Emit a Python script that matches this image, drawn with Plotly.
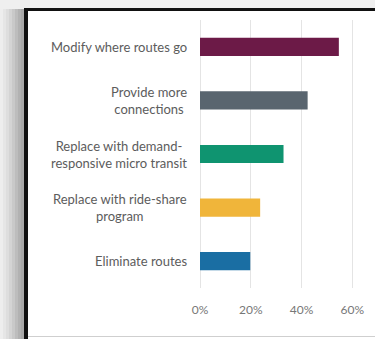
import plotly.graph_objects as go

categories = [
    "Modify where routes go",
    "Provide more<br>connections",
    "Replace with demand-<br>responsive micro transit",
    "Replace with ride-share<br>program",
    "Eliminate routes",
]
shares = [0.547, 0.424, 0.329, 0.237, 0.198]
bar_colors = ["#6c1a47", "#59656f", "#0f9470", "#f0b53a", "#1a6ea3"]
tick_vals = [0, 0.2, 0.4, 0.6]
tick_text = ["0%", "20%", "40%", "60%"]

W, H = 375, 339
L, R, T, B = 200, 10, 20, 51


def px_x(p):
    return (p - L) / (W - L - R)


def px_y(p):
    return 1 - (p - T) / (H - T - B)


fig = go.Figure()
fig.add_trace(
    go.Bar(
        x=shares,
        y=categories,
        orientation="h",
        marker=dict(color=bar_colors, line=dict(width=0)),
        width=0.34,
        hoverinfo="x+y",
    )
)

# category labels, centred like the original
for cat in categories:
    fig.add_annotation(
        x=px_x(189), xref="paper", y=cat, yref="y",
        text=cat, showarrow=False, xanchor="right", align="center",
        font=dict(family="Lato", size=13, color="#5c5c5c"),
    )

shapes = []
# shadow strip left of the frame
greys = ["#eeeeee", "#e6e6e6", "#dedede", "#d4d4d4", "#c9c9c9", "#bdbdbd", "#b2b2b2", "#a9a9a9"]
for i, g in enumerate(greys):
    shapes.append(dict(
        type="rect", xref="paper", yref="paper",
        x0=px_x(i * 3), x1=px_x(i * 3 + 3), y0=px_y(H), y1=px_y(9),
        fillcolor=g, line=dict(width=0), layer="below",
    ))
# top strip
shapes.append(dict(
    type="rect", xref="paper", yref="paper",
    x0=px_x(0), x1=px_x(W), y0=px_y(9), y1=px_y(0),
    fillcolor="#efefef", line=dict(width=0), layer="below",
))
# frame lines
shapes.append(dict(
    type="line", xref="paper", yref="paper",
    x0=px_x(26), x1=px_x(26), y0=px_y(H), y1=px_y(8),
    line=dict(color="#111111", width=4),
))
shapes.append(dict(
    type="line", xref="paper", yref="paper",
    x0=px_x(24), x1=px_x(W), y0=px_y(9.5), y1=px_y(9.5),
    line=dict(color="#111111", width=3),
))
shapes.append(dict(
    type="line", xref="paper", yref="paper",
    x0=px_x(28), x1=px_x(W), y0=px_y(336.5), y1=px_y(336.5),
    line=dict(color="#cfcfcf", width=1),
))

fig.update_layout(
    width=W, height=H,
    margin=dict(l=L, r=R, t=T, b=B),
    paper_bgcolor="white",
    plot_bgcolor="white",
    showlegend=False,
    shapes=shapes,
    xaxis=dict(
        range=[0, 0.65],
        tickvals=tick_vals, ticktext=tick_text,
        showgrid=True, gridcolor="#e4e4e4", gridwidth=1,
        zeroline=True, zerolinecolor="#e4e4e4", zerolinewidth=1,
        showline=False, ticks="",
        ticklabelstandoff=13,
        tickfont=dict(family="Lato", size=12, color="#777777"),
        fixedrange=True,
    ),
    yaxis=dict(
        categoryorder="array", categoryarray=categories,
        autorange="reversed",
        showticklabels=False, showgrid=False, zeroline=False,
        fixedrange=True,
    ),
)

fig.write_html(
    "out.html",
    config={"displayModeBar": False},
    post_script="document.body.style.margin='0';",
)
